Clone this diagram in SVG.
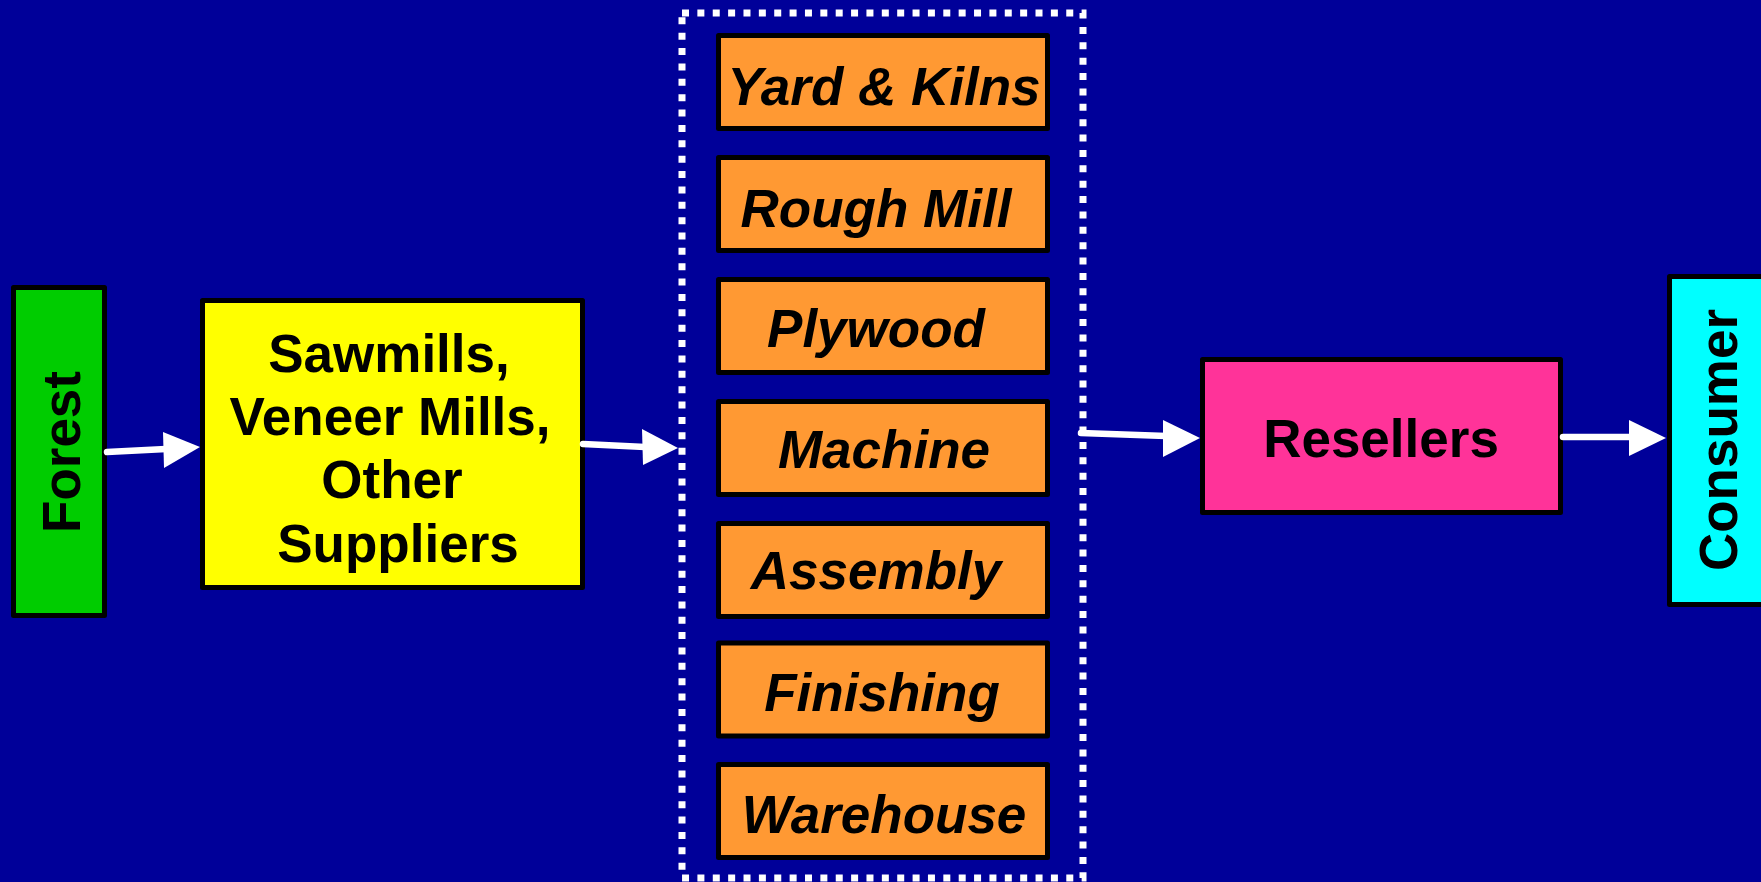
<svg xmlns="http://www.w3.org/2000/svg" width="1761" height="882" viewBox="0 0 1761 882">
<style>
.box{stroke:#000;stroke-width:5;stroke-linejoin:round}
.t{font-family:"Liberation Sans",Arial,sans-serif;font-weight:bold;font-size:53px;fill:#000;text-anchor:middle}
.i{font-style:italic}
.ln{stroke:#fff;stroke-width:6.5;stroke-linecap:round;fill:none}
.hd{fill:#fff}
.st{fill:#FF9933}
</style>
<rect width="1761" height="882" fill="#000099"/>
<g id="forest">
<rect class="box" x="13.5" y="287.5" width="91" height="328" fill="#00CC00"/>
<text class="t" transform="translate(80,452) rotate(-90)">Forest</text>
</g>
<g id="suppliers">
<rect class="box" x="202.5" y="300.5" width="380" height="287" fill="#FFFF00"/>
<text class="t" x="389" y="372">Sawmills,</text>
<text class="t" x="390" y="435">Veneer Mills,</text>
<text class="t" x="392" y="498">Other</text>
<text class="t" x="398" y="562">Suppliers</text>
</g>
<g id="plant">
<rect x="682" y="13" width="401" height="865" fill="none" stroke="#fff" stroke-width="7" stroke-dasharray="7 8.37"/>
</g>
<g id="yard">
<rect class="box st" x="718.5" y="35.5" width="329" height="93"/>
<text class="t i" x="884" y="105">Yard &amp; Kilns</text>
</g>
<g id="roughmill">
<rect class="box st" x="718.5" y="157.5" width="329" height="93"/>
<text class="t i" x="876" y="227">Rough Mill</text>
</g>
<g id="plywood">
<rect class="box st" x="718.5" y="279.5" width="329" height="93"/>
<text class="t i" x="876" y="347">Plywood</text>
</g>
<g id="machine">
<rect class="box st" x="718.5" y="401.5" width="329" height="93"/>
<text class="t i" x="884" y="468">Machine</text>
</g>
<g id="assembly">
<rect class="box st" x="718.5" y="523.5" width="329" height="93"/>
<text class="t i" x="876" y="589">Assembly</text>
</g>
<g id="finishing">
<rect class="box st" x="718.5" y="643" width="329" height="93"/>
<text class="t i" x="882" y="711">Finishing</text>
</g>
<g id="warehouse">
<rect class="box st" x="718.5" y="764.5" width="329" height="93"/>
<text class="t i" x="884" y="833">Warehouse</text>
</g>
<g id="resellers">
<rect class="box" x="1202.5" y="359.5" width="358" height="153" fill="#FF3399"/>
<text class="t" x="1381" y="457">Resellers</text>
</g>
<g id="consumer">
<rect class="box" x="1669.5" y="276.5" width="120" height="328" fill="#00FFFF"/>
<text class="t" transform="translate(1737,440) rotate(-90)">Consumer</text>
</g>
<g id="connectors">
<line class="ln" x1="107" y1="452" x2="166" y2="449"/>
<polygon class="hd" points="163,432 200,447 164,468"/>
<line class="ln" x1="583" y1="444" x2="645" y2="447"/>
<polygon class="hd" points="642,429 678,448 643,465"/>
<line class="ln" x1="1081" y1="433" x2="1166" y2="436"/>
<polygon class="hd" points="1163,420 1200,438 1163,457"/>
<line class="ln" x1="1563" y1="437" x2="1632" y2="437"/>
<polygon class="hd" points="1629,420 1666,438 1629,456"/>
</g>
</svg>
